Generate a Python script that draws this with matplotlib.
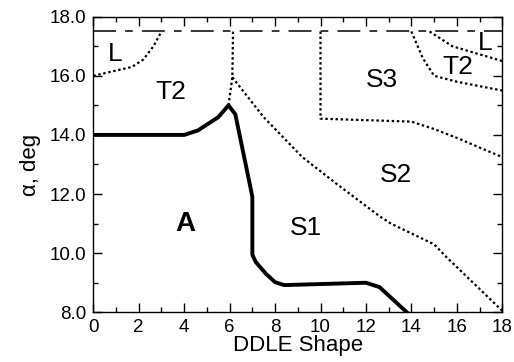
import numpy as np
import matplotlib
matplotlib.use("Agg")
from matplotlib import pyplot as plt
from matplotlib.ticker import MultipleLocator, FormatStrFormatter

plt.rcParams['font.family'] = ['Liberation Sans', 'DejaVu Sans']

# solid boundary of region A
a_x = [0.0, 4.0, 4.6, 5.5, 5.95, 6.25, 6.95, 7.0, 7.0, 7.15, 7.6, 8.0, 8.4, 12.0, 12.6, 13.8]
a_y = [14.0, 14.0, 14.15, 14.6, 15.0, 14.7, 12.1, 11.9, 9.95, 9.7, 9.3, 9.02, 8.92, 9.0, 8.85, 8.0]

# dotted boundaries
l_left_x = [0.0, 1.7, 2.2, 2.65, 3.0]
l_left_y = [16.0, 16.3, 16.55, 17.0, 17.5]

t2_s1_x = [5.95, 6.12, 6.15]
t2_s1_y = [15.0, 15.95, 17.5]

s1_s2_x = [6.12, 7.5, 9.2, 10.7, 12.6, 13.1, 15.0, 15.5, 18.0]
s1_s2_y = [15.95, 14.6, 13.25, 12.35, 11.25, 11.0, 10.3, 9.9, 8.05]

s2_s3_x = [10.0, 10.0, 12.0, 14.0, 15.0, 16.0, 18.0]
s2_s3_y = [17.5, 14.55, 14.5, 14.45, 14.2, 13.9, 13.25]

s3_t2_x = [14.0, 14.5, 15.0, 16.0, 18.0]
s3_t2_y = [17.5, 16.6, 16.0, 15.8, 15.5]

t2_l_x = [14.8, 15.8, 18.0]
t2_l_y = [17.5, 17.0, 16.5]

top_y = 17.5

labels = ['L', 'T2', 'S3', 'T2', 'L', 'S2', 'S1']
label_x = [0.95, 3.4, 12.7, 16.05, 17.25, 13.3, 9.35]
label_y = [16.75, 15.45, 15.85, 16.3, 17.1, 12.65, 10.85]

fig = plt.figure(figsize=(5.14, 3.62), dpi=100)
ax = fig.add_axes([0.1815, 0.1373, 0.7957, 0.8166])

dot = dict(color='black', lw=1.6, ls=(0, (1.1, 1.2)))
for xs, ys in [(l_left_x, l_left_y), (t2_s1_x, t2_s1_y), (s1_s2_x, s1_s2_y),
               (s2_s3_x, s2_s3_y), (s3_t2_x, s3_t2_y), (t2_l_x, t2_l_y)]:
    ax.plot(xs, ys, **dot)

ax.axhline(top_y, color='black', lw=1.1, ls=(0, (15, 6, 5, 6)))
ax.plot(a_x, a_y, color='black', lw=2.8, solid_joinstyle='round')

for t, x, y in zip(labels, label_x, label_y):
    ax.text(x, y, t, fontsize=19, ha='center', va='center')
ax.text(4.05, 11.0, 'A', fontsize=20, fontweight='bold', ha='center', va='center')

ax.set_xlim(0, 18)
ax.set_ylim(8, 18)
ax.xaxis.set_major_locator(MultipleLocator(2))
ax.xaxis.set_minor_locator(MultipleLocator(1))
ax.yaxis.set_major_locator(MultipleLocator(2))
ax.yaxis.set_minor_locator(MultipleLocator(1))
ax.yaxis.set_major_formatter(FormatStrFormatter('%.1f'))
ax.tick_params(which='both', direction='in', top=True, right=True, labelsize=13.5, width=1.0)
ax.tick_params(which='major', length=6.5, pad=5)
ax.tick_params(which='minor', length=3.5)
for s in ax.spines.values():
    s.set_linewidth(1.0)

ax.set_xlabel('DDLE Shape', fontsize=16, labelpad=-1)
ax.set_ylabel('α, deg', fontsize=16, labelpad=6)

fig.savefig('out.png', dpi=100)
